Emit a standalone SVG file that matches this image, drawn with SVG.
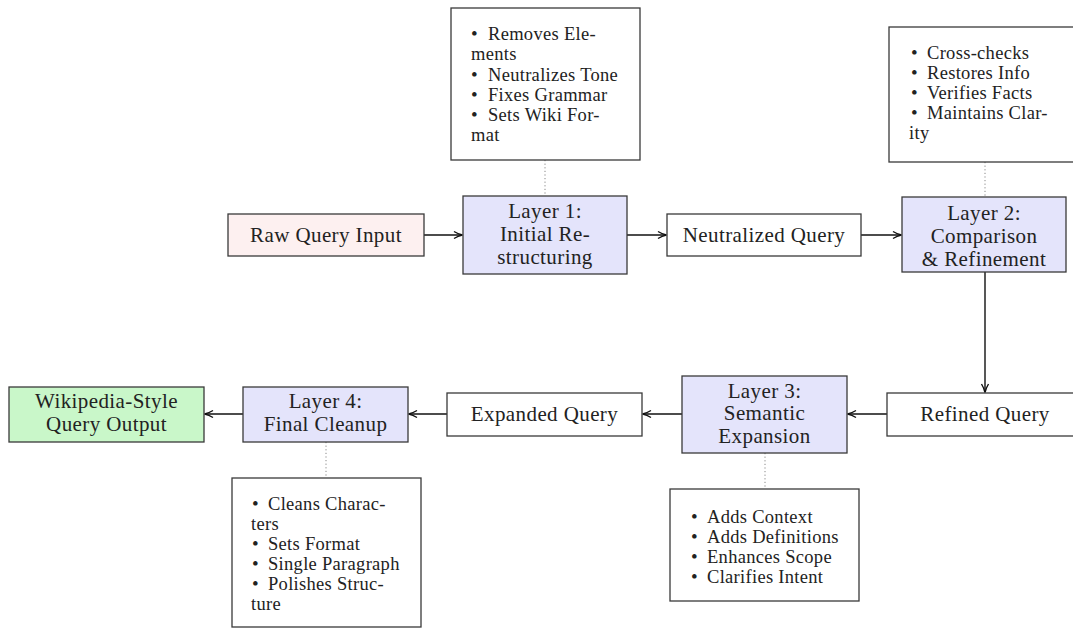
<svg xmlns="http://www.w3.org/2000/svg" width="1073" height="628" viewBox="0 0 1073 628">
<style>
.box{stroke:#3a3a3a;stroke-width:1.3}
.plain{fill:#fff}
.layer{fill:#e4e4fb}
.raw{fill:#fdf0f0}
.out{fill:#c9f7c9}
.t{font-family:"Liberation Serif","DejaVu Serif",serif;font-size:21px;letter-spacing:0.4px;fill:#222;text-anchor:middle}
.d{font-family:"Liberation Serif","DejaVu Serif",serif;font-size:18.5px;letter-spacing:0.3px;fill:#222}
.b{font-family:"Liberation Serif","DejaVu Serif",serif;font-size:19px;fill:#222}
.conn{stroke:#111;stroke-width:1.4;fill:none}
.dot{stroke:#888;stroke-width:1;stroke-dasharray:1.2 2.4;fill:none}
</style>
<defs>
<marker id="arr" viewBox="0 0 10 10" refX="9" refY="5" markerWidth="10" markerHeight="10" markerUnits="userSpaceOnUse" orient="auto">
<path d="M1,1.5 Q5,4 9.5,5 Q5,6 1,8.5" fill="none" stroke="#111" stroke-width="1.4"/>
</marker>
</defs>
<rect width="1073" height="628" fill="#fff"/>

<g id="connectors">
<line class="conn" x1="424" y1="235" x2="462" y2="235" marker-end="url(#arr)"/>
<line class="conn" x1="627" y1="235" x2="666" y2="235" marker-end="url(#arr)"/>
<line class="conn" x1="861" y1="235" x2="901" y2="235" marker-end="url(#arr)"/>
<line class="conn" x1="985" y1="272" x2="985" y2="392" marker-end="url(#arr)"/>
<line class="conn" x1="887" y1="414" x2="848" y2="414" marker-end="url(#arr)"/>
<line class="conn" x1="682" y1="414" x2="643" y2="414" marker-end="url(#arr)"/>
<line class="conn" x1="447" y1="414" x2="409" y2="414" marker-end="url(#arr)"/>
<line class="conn" x1="243" y1="414" x2="205" y2="414" marker-end="url(#arr)"/>
<line class="dot" x1="545" y1="160" x2="545" y2="196"/>
<line class="dot" x1="985" y1="162" x2="985" y2="197"/>
<line class="dot" x1="765" y1="453" x2="765" y2="489"/>
<line class="dot" x1="326" y1="442" x2="326" y2="478"/>
</g>

<g id="raw">
<rect class="box raw" x="228" y="214" width="196" height="42"/>
<text class="t" x="326" y="242">Raw Query Input</text>
</g>

<g id="layer1">
<rect class="box layer" x="463" y="196" width="164" height="78"/>
<text class="t" x="545" y="218">Layer 1:</text>
<text class="t" x="545" y="241">Initial Re-</text>
<text class="t" x="545" y="264">structuring</text>
</g>

<g id="layer1-details">
<rect class="box plain" x="451" y="8" width="189" height="152"/>
<text class="b" x="471" y="40">•</text><text class="d" x="488" y="40">Removes Ele-</text>
<text class="d" x="471" y="60">ments</text>
<text class="b" x="471" y="81">•</text><text class="d" x="488" y="81">Neutralizes Tone</text>
<text class="b" x="471" y="101">•</text><text class="d" x="488" y="101">Fixes Grammar</text>
<text class="b" x="471" y="121">•</text><text class="d" x="488" y="121">Sets Wiki For-</text>
<text class="d" x="471" y="141">mat</text>
</g>

<g id="neutralized">
<rect class="box plain" x="667" y="214" width="194" height="42"/>
<text class="t" x="764" y="242">Neutralized Query</text>
</g>

<g id="layer2">
<rect class="box layer" x="902" y="197" width="164" height="75"/>
<text class="t" x="984" y="220">Layer 2:</text>
<text class="t" x="984" y="243">Comparison</text>
<text class="t" x="984" y="266">&amp; Refinement</text>
</g>

<g id="layer2-details">
<rect class="box plain" x="889" y="27" width="190" height="135"/>
<text class="b" x="911" y="59">•</text><text class="d" x="927" y="59">Cross-checks</text>
<text class="b" x="911" y="79">•</text><text class="d" x="927" y="79">Restores Info</text>
<text class="b" x="911" y="99">•</text><text class="d" x="927" y="99">Verifies Facts</text>
<text class="b" x="911" y="119">•</text><text class="d" x="927" y="119">Maintains Clar-</text>
<text class="d" x="909" y="139">ity</text>
</g>

<g id="refined">
<rect class="box plain" x="887" y="393" width="196" height="43"/>
<text class="t" x="985" y="421">Refined Query</text>
</g>

<g id="layer3">
<rect class="box layer" x="682" y="376" width="165" height="77"/>
<text class="t" x="764.5" y="398">Layer 3:</text>
<text class="t" x="764.5" y="420">Semantic</text>
<text class="t" x="764.5" y="443">Expansion</text>
</g>

<g id="layer3-details">
<rect class="box plain" x="670" y="489" width="189" height="112"/>
<text class="b" x="691" y="523">•</text><text class="d" x="707" y="523">Adds Context</text>
<text class="b" x="691" y="543">•</text><text class="d" x="707" y="543">Adds Definitions</text>
<text class="b" x="691" y="563">•</text><text class="d" x="707" y="563">Enhances Scope</text>
<text class="b" x="691" y="583">•</text><text class="d" x="707" y="583">Clarifies Intent</text>
</g>

<g id="expanded">
<rect class="box plain" x="447" y="393" width="195" height="43"/>
<text class="t" x="544.5" y="421">Expanded Query</text>
</g>

<g id="layer4">
<rect class="box layer" x="243" y="387" width="165" height="55"/>
<text class="t" x="325.5" y="408">Layer 4:</text>
<text class="t" x="325.5" y="431">Final Cleanup</text>
</g>

<g id="layer4-details">
<rect class="box plain" x="232" y="478" width="189" height="149"/>
<text class="b" x="252" y="510">•</text><text class="d" x="268" y="510">Cleans Charac-</text>
<text class="d" x="251" y="530">ters</text>
<text class="b" x="252" y="550">•</text><text class="d" x="268" y="550">Sets Format</text>
<text class="b" x="252" y="570">•</text><text class="d" x="268" y="570">Single Paragraph</text>
<text class="b" x="252" y="590">•</text><text class="d" x="268" y="590">Polishes Struc-</text>
<text class="d" x="251" y="610">ture</text>
</g>

<g id="output">
<rect class="box out" x="9" y="387" width="195" height="55"/>
<text class="t" x="106.5" y="408">Wikipedia-Style</text>
<text class="t" x="106.5" y="431">Query Output</text>
</g>
</svg>
